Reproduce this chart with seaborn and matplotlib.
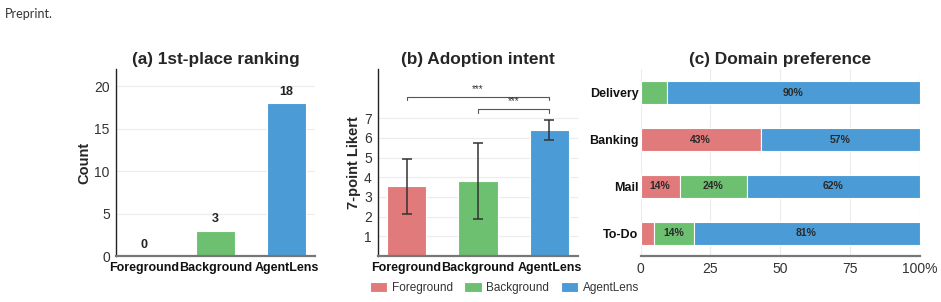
import numpy as np
import matplotlib
matplotlib.use("Agg")
import matplotlib.pyplot as plt
import pandas as pd
import seaborn as sns

# data
methods = ["Foreground", "Background", "AgentLens"]
colors = ["#E07A7B", "#6CC070", "#4A9BD6"]

first_place = [0, 3, 18]

likert_mean = [3.55, 3.8, 6.42]
likert_sd = [1.4, 1.94, 0.5]

domains = ["Delivery", "Banking", "Mail", "To-Do"]
pref_fg = [0, 43, 14, 5]
pref_bg = [9.5, 0, 24, 14]
pref_al = [90.5, 57, 62, 81]

sns.set_theme(style="whitegrid")
plt.rcParams["font.family"] = ["Liberation Sans", "DejaVu Sans"]

fig = plt.figure(figsize=(9.41, 3.02), dpi=100)
ax_a = fig.add_axes([0.1233, 0.1523, 0.2114, 0.619])
ax_b = fig.add_axes([0.4017, 0.1523, 0.2125, 0.619])
ax_c = fig.add_axes([0.6807, 0.1523, 0.2965, 0.619])

fig.text(0.005, 0.955, "Preprint.", fontsize=9, color="#333333", family="Lato", va="center")

palette = dict(zip(methods, colors))


def style_axes(ax, grid_axis="y"):
    sns.despine(ax=ax)
    ax.spines["left"].set_color("#222222")
    ax.spines["left"].set_linewidth(1.0)
    ax.spines["bottom"].set_color("#777777")
    ax.spines["bottom"].set_linewidth(1.6)
    ax.grid(False)
    ax.grid(axis=grid_axis, color="#ececec", linewidth=0.8)
    ax.set_axisbelow(True)
    ax.tick_params(axis="both", length=3, width=0.8, color="#444444", pad=1.5)


# (a) 1st-place ranking
df_a = pd.DataFrame({"method": methods, "count": first_place})
sns.barplot(data=df_a, x="method", y="count", hue="method", palette=palette, saturation=1,
            width=0.55, edgecolor="white", linewidth=0.8, legend=False, ax=ax_a)
for i, v in enumerate(first_place):
    ax_a.text(i, v + 0.6, str(v), ha="center", va="bottom", fontsize=9, fontweight="bold", color="#222222")
ax_a.set_xlim(-0.4, 2.4)
ax_a.set_ylim(0, 22)
ax_a.set_yticks([0, 5, 10, 15, 20])
ax_a.set_xlabel("")
ax_a.set_ylabel("Count", fontsize=10.5, fontweight="bold", labelpad=2)
ax_a.set_title("(a) 1st-place ranking", fontsize=12.4, fontweight="bold", pad=4)
style_axes(ax_a)

# (b) Adoption intent
df_b = pd.DataFrame({"method": methods, "mean": likert_mean, "sd": likert_sd})
sns.barplot(data=df_b, x="method", y="mean", hue="method", palette=palette, saturation=1,
            width=0.55, edgecolor="white", linewidth=0.8, legend=False, ax=ax_b)
ax_b.errorbar(range(3), likert_mean, yerr=likert_sd, fmt="none", ecolor="#333333",
              elinewidth=1.1, capsize=3.5, capthick=1.1)


def bracket(ax, x1, x2, y, h, label):
    ax.plot([x1, x1, x2, x2], [y - h, y, y, y - h], color="#555555", lw=0.8)
    ax.text((x1 + x2) / 2, y + 0.15, label, ha="center", va="bottom", fontsize=7, color="#333333")


bracket(ax_b, 0, 2, 8.1, 0.18, "***")
bracket(ax_b, 1, 2, 7.45, 0.18, "***")
ax_b.set_xlim(-0.4, 2.4)
ax_b.set_ylim(0, 9.5)
ax_b.set_yticks(range(1, 8))
ax_b.set_xlabel("")
ax_b.set_ylabel("7-point Likert", fontsize=10.5, fontweight="bold", labelpad=2)
ax_b.set_title("(b) Adoption intent", fontsize=12.4, fontweight="bold", pad=4)
style_axes(ax_b)

# (c) Domain preference
ypos = np.arange(len(domains))
left = np.zeros(len(domains))
for name, vals, col in zip(methods, [pref_fg, pref_bg, pref_al], colors):
    vals = np.array(vals, dtype=float)
    ax_c.barh(ypos, vals, left=left, height=0.5, color=col, edgecolor="white", linewidth=0.8, label=name)
    for y, l, v in zip(ypos, left, vals):
        if v >= 12:
            ax_c.text(l + v / 2, y, f"{v:.0f}%", ha="center", va="center", fontsize=7.5,
                      fontweight="bold", color="#2a2a2a")
    left += vals
ax_c.set_yticks(ypos)
ax_c.set_yticklabels(domains)
ax_c.set_ylim(3.48, -0.5)
ax_c.set_xlim(0, 100)
ax_c.set_xticks([0, 25, 50, 75, 100])
ax_c.set_xticklabels(["0", "25", "50", "75", "100%"])
ax_c.set_title("(c) Domain preference", fontsize=12.4, fontweight="bold", pad=4)
style_axes(ax_c, grid_axis="x")
ax_c.spines["left"].set_visible(False)
ax_c.tick_params(axis="y", length=0)

for ax in (ax_a, ax_b):
    for lab in ax.get_xticklabels():
        lab.set_fontweight("bold")
        lab.set_fontsize(9)
        lab.set_color("#111111")
    for lab in ax.get_yticklabels():
        lab.set_fontsize(10)
        lab.set_color("#333333")
for lab in ax_c.get_yticklabels():
    lab.set_fontweight("bold")
    lab.set_fontsize(9)
    lab.set_color("#111111")
for lab in ax_c.get_xticklabels():
    lab.set_fontsize(10)
    lab.set_color("#333333")

handles, labels = ax_c.get_legend_handles_labels()
fig.legend(handles, labels, loc="center", bbox_to_anchor=(0.536, 0.046), ncol=3, frameon=False,
           fontsize=8.5, handlelength=1.45, handleheight=0.8, columnspacing=1.0, handletextpad=0.4,
           labelcolor="#333333")

fig.savefig("out.png", dpi=100)
